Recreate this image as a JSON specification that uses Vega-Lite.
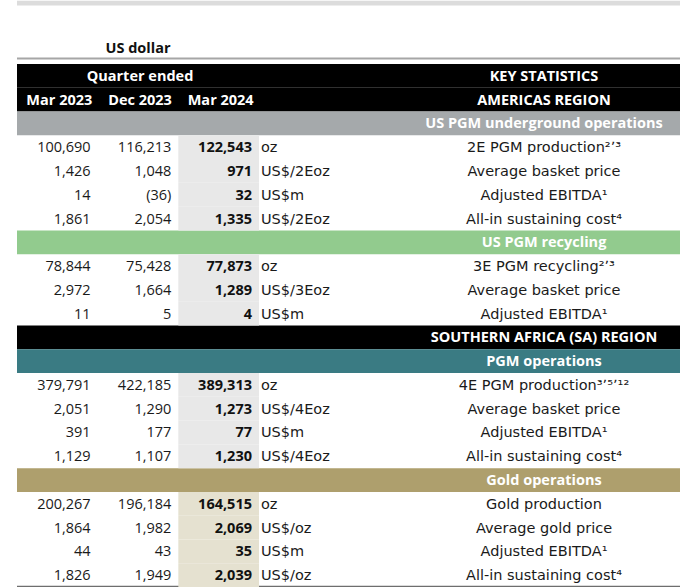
{
  "$schema": "https://vega.github.io/schema/vega-lite/v6.json",
  "padding": {"left": 17, "top": 0, "right": 0, "bottom": 0},
  "background": "white",
  "spacing": 0,
  "config": {"view": {"stroke": null}, "text": {"font": "DejaVu Sans", "fontSize": 14.5, "baseline": "middle", "dy": 1}},
  "datasets": {
    "table": [
      {"row": 3, "sec": "americas", "Mar 2023": "100,690", "Dec 2023": "116,213", "Mar 2024": "122,543", "unit": "oz", "label": "2E PGM production²ʼ³"},
      {"row": 4, "sec": "americas", "Mar 2023": "1,426", "Dec 2023": "1,048", "Mar 2024": "971", "unit": "US$/2Eoz", "label": "Average basket price"},
      {"row": 5, "sec": "americas", "Mar 2023": "14", "Dec 2023": "(36)", "Mar 2024": "32", "unit": "US$m", "label": "Adjusted EBITDA¹"},
      {"row": 6, "sec": "americas", "Mar 2023": "1,861", "Dec 2023": "2,054", "Mar 2024": "1,335", "unit": "US$/2Eoz", "label": "All-in sustaining cost⁴"},
      {"row": 8, "sec": "recycling", "Mar 2023": "78,844", "Dec 2023": "75,428", "Mar 2024": "77,873", "unit": "oz", "label": "3E PGM recycling²ʼ³"},
      {"row": 9, "sec": "recycling", "Mar 2023": "2,972", "Dec 2023": "1,664", "Mar 2024": "1,289", "unit": "US$/3Eoz", "label": "Average basket price"},
      {"row": 10, "sec": "recycling", "Mar 2023": "11", "Dec 2023": "5", "Mar 2024": "4", "unit": "US$m", "label": "Adjusted EBITDA¹"},
      {"row": 13, "sec": "pgm", "Mar 2023": "379,791", "Dec 2023": "422,185", "Mar 2024": "389,313", "unit": "oz", "label": "4E PGM production³ʼ⁵ʼ¹²"},
      {"row": 14, "sec": "pgm", "Mar 2023": "2,051", "Dec 2023": "1,290", "Mar 2024": "1,273", "unit": "US$/4Eoz", "label": "Average basket price"},
      {"row": 15, "sec": "pgm", "Mar 2023": "391", "Dec 2023": "177", "Mar 2024": "77", "unit": "US$m", "label": "Adjusted EBITDA¹"},
      {"row": 16, "sec": "pgm", "Mar 2023": "1,129", "Dec 2023": "1,107", "Mar 2024": "1,230", "unit": "US$/4Eoz", "label": "All-in sustaining cost⁴"},
      {"row": 18, "sec": "gold", "Mar 2023": "200,267", "Dec 2023": "196,184", "Mar 2024": "164,515", "unit": "oz", "label": "Gold production"},
      {"row": 19, "sec": "gold", "Mar 2023": "1,864", "Dec 2023": "1,982", "Mar 2024": "2,069", "unit": "US$/oz", "label": "Average gold price"},
      {"row": 20, "sec": "gold", "Mar 2023": "44", "Dec 2023": "43", "Mar 2024": "35", "unit": "US$m", "label": "Adjusted EBITDA¹"},
      {"row": 21, "sec": "gold", "Mar 2023": "1,826", "Dec 2023": "1,949", "Mar 2024": "2,039", "unit": "US$/oz", "label": "All-in sustaining cost⁴"}
    ],
    "bands": [
      {"row": 0, "kind": "header", "text": "KEY STATISTICS"},
      {"row": 1, "kind": "header", "text": "AMERICAS REGION"},
      {"row": 2, "kind": "americas", "text": "US PGM underground operations"},
      {"row": 7, "kind": "recycling", "text": "US PGM recycling"},
      {"row": 11, "kind": "region", "text": "SOUTHERN AFRICA (SA) REGION"},
      {"row": 12, "kind": "pgm", "text": "PGM operations"},
      {"row": 17, "kind": "gold", "text": "Gold operations"}
    ],
    "heads": [
      {"row": -1, "col": "Dec 2023", "text": "US dollar"},
      {"row": 0, "col": "Dec 2023", "text": "Quarter ended"},
      {"row": 1, "col": "Mar 2023", "text": "Mar 2023"},
      {"row": 1, "col": "Dec 2023", "text": "Dec 2023"},
      {"row": 1, "col": "Mar 2024", "text": "Mar 2024"}
    ],
    "deco": [{"part": "frame"}]
  },
  "hconcat": [
    {
      "width": 391,
      "height": 587,
      "resolve": {"scale": {"y": "independent", "fill": "independent"}},
      "layer": [
        {"data": {"name": "deco"}, "mark": {"type": "rect", "color": "#dcdcdc"},
         "encoding": {"y": {"datum": -2.66, "type": "quantitative", "scale": {"domain": [-1, 22], "range": [39.23, 586], "nice": false, "zero": false}, "axis": null}, "y2": {"datum": -2.46}}},
        {"data": {"name": "deco"}, "mark": {"type": "rect", "color": "#a6a6a6"},
         "encoding": {"y": {"datum": -0.27, "type": "quantitative", "scale": {"domain": [-1, 22], "range": [39.23, 586], "nice": false, "zero": false}, "axis": null}, "y2": {"datum": -0.19}}},
        {"data": {"name": "deco"}, "mark": {"type": "rect", "color": "#6e6e6e"},
         "encoding": {"y": {"datum": 21.95, "type": "quantitative", "scale": {"domain": [-1, 22], "range": [39.23, 586], "nice": false, "zero": false}, "axis": null}, "y2": {"datum": 22.05}}},
        {"data": {"name": "bands"}, "mark": "rect",
         "encoding": {
           "y": {"field": "row", "type": "ordinal", "scale": {"type": "band", "domain": [-1,0,1,2,3,4,5,6,7,8,9,10,11,12,13,14,15,16,17,18,19,20,21], "range": [39.23, 586], "paddingInner": 0, "paddingOuter": 0}, "axis": null},
           "fill": {"field": "kind", "type": "nominal", "scale": {"domain": ["header","americas","recycling","region","pgm","gold"], "range": ["#000000","#a5a9ab","#92cb8e","#000000","#3a7b83","#ae9f6d"]}, "legend": null}
         }},
        {"data": {"name": "table"}, "transform": [{"fold": ["Mar 2024"], "as": ["period", "val"]}], "mark": "rect",
         "encoding": {
           "x": {"field": "period", "type": "nominal", "scale": {"type": "band", "domain": ["Mar 2023","Dec 2023","Mar 2024","unit"], "range": [0, 322.67], "paddingInner": 0, "paddingOuter": 0}, "axis": null},
           "y": {"field": "row", "type": "ordinal", "scale": {"type": "band", "domain": [-1,0,1,2,3,4,5,6,7,8,9,10,11,12,13,14,15,16,17,18,19,20,21], "range": [39.23, 586], "paddingInner": 0, "paddingOuter": 0}, "axis": null},
           "fill": {"field": "sec", "type": "nominal", "scale": {"domain": ["americas","recycling","pgm","gold"], "range": ["#e8e8e8","#e8e8e8","#e8e8e8","#e5e1d0"]}, "legend": null}
         }},
        {"data": {"name": "table"}, "transform": [{"fold": ["Mar 2023", "Dec 2023"], "as": ["period", "val"]}],
         "mark": {"type": "text", "align": "right", "dx": -7, "font": "Open Sans", "fontSize": 14.5, "color": "#1a1a1a"},
         "encoding": {
           "x": {"field": "period", "type": "nominal", "bandPosition": 1, "scale": {"type": "band", "domain": ["Mar 2023","Dec 2023","Mar 2024","unit"], "range": [0, 322.67], "paddingInner": 0, "paddingOuter": 0}, "axis": null},
           "y": {"field": "row", "type": "ordinal", "scale": {"type": "band", "domain": [-1,0,1,2,3,4,5,6,7,8,9,10,11,12,13,14,15,16,17,18,19,20,21], "range": [39.23, 586], "paddingInner": 0, "paddingOuter": 0}, "axis": null},
           "text": {"field": "val"}
         }},
        {"data": {"name": "table"}, "transform": [{"fold": ["Mar 2024"], "as": ["period", "val"]}],
         "mark": {"type": "text", "align": "right", "dx": -7, "font": "Open Sans", "fontWeight": "bold", "fontSize": 14.5, "color": "#111111"},
         "encoding": {
           "x": {"field": "period", "type": "nominal", "bandPosition": 1, "scale": {"type": "band", "domain": ["Mar 2023","Dec 2023","Mar 2024","unit"], "range": [0, 322.67], "paddingInner": 0, "paddingOuter": 0}, "axis": null},
           "y": {"field": "row", "type": "ordinal", "scale": {"type": "band", "domain": [-1,0,1,2,3,4,5,6,7,8,9,10,11,12,13,14,15,16,17,18,19,20,21], "range": [39.23, 586], "paddingInner": 0, "paddingOuter": 0}, "axis": null},
           "text": {"field": "val"}
         }},
        {"data": {"name": "table"}, "transform": [{"fold": ["unit"], "as": ["period", "val"]}],
         "mark": {"type": "text", "align": "left", "dx": 2, "color": "#1a1a1a"},
         "encoding": {
           "x": {"field": "period", "type": "nominal", "bandPosition": 0, "scale": {"type": "band", "domain": ["Mar 2023","Dec 2023","Mar 2024","unit"], "range": [0, 322.67], "paddingInner": 0, "paddingOuter": 0}, "axis": null},
           "y": {"field": "row", "type": "ordinal", "scale": {"type": "band", "domain": [-1,0,1,2,3,4,5,6,7,8,9,10,11,12,13,14,15,16,17,18,19,20,21], "range": [39.23, 586], "paddingInner": 0, "paddingOuter": 0}, "axis": null},
           "text": {"field": "val"}
         }},
        {"data": {"name": "heads"}, "transform": [{"filter": "datum.row >= 0"}],
         "mark": {"type": "text", "align": "center", "dx": 2, "font": "Open Sans", "fontWeight": "bold", "fontSize": 14.5, "color": "#ffffff"},
         "encoding": {
           "x": {"field": "col", "type": "nominal", "scale": {"type": "band", "domain": ["Mar 2023","Dec 2023","Mar 2024","unit"], "range": [0, 322.67], "paddingInner": 0, "paddingOuter": 0}, "axis": null},
           "y": {"field": "row", "type": "ordinal", "scale": {"type": "band", "domain": [-1,0,1,2,3,4,5,6,7,8,9,10,11,12,13,14,15,16,17,18,19,20,21], "range": [39.23, 586], "paddingInner": 0, "paddingOuter": 0}, "axis": null},
           "text": {"field": "text"}
         }},
        {"data": {"name": "heads"}, "transform": [{"filter": "datum.row < 0"}],
         "mark": {"type": "text", "align": "center", "dx": 0, "dy": -3, "font": "Open Sans", "fontWeight": "bold", "fontSize": 14.5, "color": "#111111"},
         "encoding": {
           "x": {"field": "col", "type": "nominal", "scale": {"type": "band", "domain": ["Mar 2023","Dec 2023","Mar 2024","unit"], "range": [0, 322.67], "paddingInner": 0, "paddingOuter": 0}, "axis": null},
           "y": {"field": "row", "type": "ordinal", "scale": {"type": "band", "domain": [-1,0,1,2,3,4,5,6,7,8,9,10,11,12,13,14,15,16,17,18,19,20,21], "range": [39.23, 586], "paddingInner": 0, "paddingOuter": 0}, "axis": null},
           "text": {"field": "text"}
         }}
      ]
    },
    {
      "width": 272,
      "height": 587,
      "resolve": {"scale": {"y": "independent", "fill": "independent"}},
      "layer": [
        {"data": {"name": "deco"}, "mark": {"type": "rect", "color": "#dcdcdc"},
         "encoding": {"y": {"datum": -2.66, "type": "quantitative", "scale": {"domain": [-1, 22], "range": [39.23, 586], "nice": false, "zero": false}, "axis": null}, "y2": {"datum": -2.46}}},
        {"data": {"name": "deco"}, "mark": {"type": "rect", "color": "#a6a6a6"},
         "encoding": {"y": {"datum": -0.27, "type": "quantitative", "scale": {"domain": [-1, 22], "range": [39.23, 586], "nice": false, "zero": false}, "axis": null}, "y2": {"datum": -0.19}}},
        {"data": {"name": "deco"}, "mark": {"type": "rect", "color": "#6e6e6e"},
         "encoding": {"y": {"datum": 21.95, "type": "quantitative", "scale": {"domain": [-1, 22], "range": [39.23, 586], "nice": false, "zero": false}, "axis": null}, "y2": {"datum": 22.05}}},
        {"data": {"name": "bands"}, "mark": "rect",
         "encoding": {
           "y": {"field": "row", "type": "ordinal", "scale": {"type": "band", "domain": [-1,0,1,2,3,4,5,6,7,8,9,10,11,12,13,14,15,16,17,18,19,20,21], "range": [39.23, 586], "paddingInner": 0, "paddingOuter": 0}, "axis": null},
           "fill": {"field": "kind", "type": "nominal", "scale": {"domain": ["header","americas","recycling","region","pgm","gold"], "range": ["#000000","#a5a9ab","#92cb8e","#000000","#3a7b83","#ae9f6d"]}, "legend": null}
         }},
        {"data": {"name": "bands"},
         "mark": {"type": "text", "align": "center", "font": "Open Sans", "fontWeight": "bold", "fontSize": 14.5, "color": "#ffffff"},
         "encoding": {
           "y": {"field": "row", "type": "ordinal", "scale": {"type": "band", "domain": [-1,0,1,2,3,4,5,6,7,8,9,10,11,12,13,14,15,16,17,18,19,20,21], "range": [39.23, 586], "paddingInner": 0, "paddingOuter": 0}, "axis": null},
           "text": {"field": "text"}
         }},
        {"data": {"name": "table"},
         "mark": {"type": "text", "align": "center", "color": "#1a1a1a"},
         "encoding": {
           "y": {"field": "row", "type": "ordinal", "scale": {"type": "band", "domain": [-1,0,1,2,3,4,5,6,7,8,9,10,11,12,13,14,15,16,17,18,19,20,21], "range": [39.23, 586], "paddingInner": 0, "paddingOuter": 0}, "axis": null},
           "text": {"field": "label"}
         }}
      ]
    }
  ]
}
